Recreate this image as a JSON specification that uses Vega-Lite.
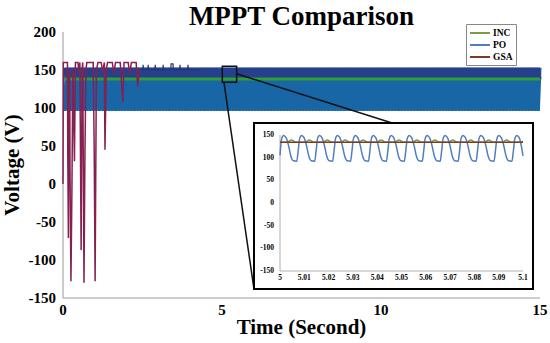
{
"$schema": "https://vega.github.io/schema/vega-lite/v6.json",
"width": 477, "height": 266,
"autosize": "none",
"padding": {"left": 63, "top": 32, "right": 10, "bottom": 45},
"background": "white",
"config": {"view": {"stroke": null}, "axis": {"grid": false}},
"title": {"text": "MPPT Comparison", "font": "Liberation Serif", "fontSize": 27, "fontWeight": "bold", "color": "black", "anchor": "middle", "frame": "group", "offset": -28, "baseline": "alphabetic"},
"datasets": {
"band": [
{"t":0.05,"p":96,"g":153},{"t":0.1,"p":153,"g":138},{"t":0.15,"p":96,"g":153},{"t":0.2,"p":153,"g":138},{"t":0.25,"p":96,"g":153},{"t":0.3,"p":153,"g":138},{"t":0.35,"p":96,"g":153},{"t":0.4,"p":153,"g":138},{"t":0.45,"p":96,"g":153},{"t":0.5,"p":153,"g":138},{"t":0.55,"p":96,"g":153},{"t":0.6,"p":153,"g":138},{"t":0.65,"p":96,"g":153},{"t":0.7,"p":153,"g":138},{"t":0.75,"p":96,"g":153},{"t":0.8,"p":153,"g":138},{"t":0.85,"p":96,"g":153},{"t":0.9,"p":153,"g":138},{"t":0.95,"p":96,"g":153},{"t":1,"p":153,"g":138},
{"t":1.05,"p":96,"g":153},{"t":1.1,"p":153,"g":138},{"t":1.15,"p":96,"g":153},{"t":1.2,"p":153,"g":138},{"t":1.25,"p":96,"g":153},{"t":1.3,"p":153,"g":138},{"t":1.35,"p":96,"g":153},{"t":1.4,"p":153,"g":138},{"t":1.45,"p":96,"g":153},{"t":1.5,"p":153,"g":138},{"t":1.55,"p":96,"g":153},{"t":1.6,"p":153,"g":138},{"t":1.65,"p":96,"g":153},{"t":1.7,"p":153,"g":138},{"t":1.75,"p":96,"g":153},{"t":1.8,"p":153,"g":138},{"t":1.85,"p":96,"g":153},{"t":1.9,"p":153,"g":138},{"t":1.95,"p":96,"g":153},{"t":2,"p":153,"g":138},
{"t":2.05,"p":96,"g":153},{"t":2.1,"p":153,"g":138},{"t":2.15,"p":96,"g":153},{"t":2.2,"p":153,"g":138},{"t":2.25,"p":96,"g":153},{"t":2.3,"p":153,"g":138},{"t":2.35,"p":96,"g":153},{"t":2.4,"p":153,"g":138},{"t":2.45,"p":96,"g":153},{"t":2.5,"p":153,"g":138},{"t":2.55,"p":96,"g":153},{"t":2.6,"p":153,"g":138},{"t":2.65,"p":96,"g":153},{"t":2.7,"p":153,"g":138},{"t":2.75,"p":96,"g":153},{"t":2.8,"p":153,"g":138},{"t":2.85,"p":96,"g":153},{"t":2.9,"p":153,"g":138},{"t":2.95,"p":96,"g":153},{"t":3,"p":153,"g":138},
{"t":3.05,"p":96,"g":153},{"t":3.1,"p":153,"g":138},{"t":3.15,"p":96,"g":153},{"t":3.2,"p":153,"g":138},{"t":3.25,"p":96,"g":153},{"t":3.3,"p":153,"g":138},{"t":3.35,"p":96,"g":153},{"t":3.4,"p":153,"g":138},{"t":3.45,"p":96,"g":153},{"t":3.5,"p":153,"g":138},{"t":3.55,"p":96,"g":153},{"t":3.6,"p":153,"g":138},{"t":3.65,"p":96,"g":153},{"t":3.7,"p":153,"g":138},{"t":3.75,"p":96,"g":153},{"t":3.8,"p":153,"g":138},{"t":3.85,"p":96,"g":153},{"t":3.9,"p":153,"g":138},{"t":3.95,"p":96,"g":153},{"t":4,"p":153,"g":138},
{"t":4.05,"p":96,"g":153},{"t":4.1,"p":153,"g":138},{"t":4.15,"p":96,"g":153},{"t":4.2,"p":153,"g":138},{"t":4.25,"p":96,"g":153},{"t":4.3,"p":153,"g":138},{"t":4.35,"p":96,"g":153},{"t":4.4,"p":153,"g":138},{"t":4.45,"p":96,"g":153},{"t":4.5,"p":153,"g":138},{"t":4.55,"p":96,"g":153},{"t":4.6,"p":153,"g":138},{"t":4.65,"p":96,"g":153},{"t":4.7,"p":153,"g":138},{"t":4.75,"p":96,"g":153},{"t":4.8,"p":153,"g":138},{"t":4.85,"p":96,"g":153},{"t":4.9,"p":153,"g":138},{"t":4.95,"p":96,"g":153},{"t":5,"p":153,"g":138},
{"t":5.05,"p":96,"g":153},{"t":5.1,"p":153,"g":138},{"t":5.15,"p":96,"g":153},{"t":5.2,"p":153,"g":138},{"t":5.25,"p":96,"g":153},{"t":5.3,"p":153,"g":138},{"t":5.35,"p":96,"g":153},{"t":5.4,"p":153,"g":138},{"t":5.45,"p":96,"g":153},{"t":5.5,"p":153,"g":138},{"t":5.55,"p":96,"g":153},{"t":5.6,"p":153,"g":138},{"t":5.65,"p":96,"g":153},{"t":5.7,"p":153,"g":138},{"t":5.75,"p":96,"g":153},{"t":5.8,"p":153,"g":138},{"t":5.85,"p":96,"g":153},{"t":5.9,"p":153,"g":138},{"t":5.95,"p":96,"g":153},{"t":6,"p":153,"g":138},
{"t":6.05,"p":96,"g":153},{"t":6.1,"p":153,"g":138},{"t":6.15,"p":96,"g":153},{"t":6.2,"p":153,"g":138},{"t":6.25,"p":96,"g":153},{"t":6.3,"p":153,"g":138},{"t":6.35,"p":96,"g":153},{"t":6.4,"p":153,"g":138},{"t":6.45,"p":96,"g":153},{"t":6.5,"p":153,"g":138},{"t":6.55,"p":96,"g":153},{"t":6.6,"p":153,"g":138},{"t":6.65,"p":96,"g":153},{"t":6.7,"p":153,"g":138},{"t":6.75,"p":96,"g":153},{"t":6.8,"p":153,"g":138},{"t":6.85,"p":96,"g":153},{"t":6.9,"p":153,"g":138},{"t":6.95,"p":96,"g":153},{"t":7,"p":153,"g":138},
{"t":7.05,"p":96,"g":153},{"t":7.1,"p":153,"g":138},{"t":7.15,"p":96,"g":153},{"t":7.2,"p":153,"g":138},{"t":7.25,"p":96,"g":153},{"t":7.3,"p":153,"g":138},{"t":7.35,"p":96,"g":153},{"t":7.4,"p":153,"g":138},{"t":7.45,"p":96,"g":153},{"t":7.5,"p":153,"g":138},{"t":7.55,"p":96,"g":153},{"t":7.6,"p":153,"g":138},{"t":7.65,"p":96,"g":153},{"t":7.7,"p":153,"g":138},{"t":7.75,"p":96,"g":153},{"t":7.8,"p":153,"g":138},{"t":7.85,"p":96,"g":153},{"t":7.9,"p":153,"g":138},{"t":7.95,"p":96,"g":153},{"t":8,"p":153,"g":138},
{"t":8.05,"p":96,"g":153},{"t":8.1,"p":153,"g":138},{"t":8.15,"p":96,"g":153},{"t":8.2,"p":153,"g":138},{"t":8.25,"p":96,"g":153},{"t":8.3,"p":153,"g":138},{"t":8.35,"p":96,"g":153},{"t":8.4,"p":153,"g":138},{"t":8.45,"p":96,"g":153},{"t":8.5,"p":153,"g":138},{"t":8.55,"p":96,"g":153},{"t":8.6,"p":153,"g":138},{"t":8.65,"p":96,"g":153},{"t":8.7,"p":153,"g":138},{"t":8.75,"p":96,"g":153},{"t":8.8,"p":153,"g":138},{"t":8.85,"p":96,"g":153},{"t":8.9,"p":153,"g":138},{"t":8.95,"p":96,"g":153},{"t":9,"p":153,"g":138},
{"t":9.05,"p":96,"g":153},{"t":9.1,"p":153,"g":138},{"t":9.15,"p":96,"g":153},{"t":9.2,"p":153,"g":138},{"t":9.25,"p":96,"g":153},{"t":9.3,"p":153,"g":138},{"t":9.35,"p":96,"g":153},{"t":9.4,"p":153,"g":138},{"t":9.45,"p":96,"g":153},{"t":9.5,"p":153,"g":138},{"t":9.55,"p":96,"g":153},{"t":9.6,"p":153,"g":138},{"t":9.65,"p":96,"g":153},{"t":9.7,"p":153,"g":138},{"t":9.75,"p":96,"g":153},{"t":9.8,"p":153,"g":138},{"t":9.85,"p":96,"g":153},{"t":9.9,"p":153,"g":138},{"t":9.95,"p":96,"g":153},{"t":10,"p":153,"g":138},
{"t":10.05,"p":96,"g":153},{"t":10.1,"p":153,"g":138},{"t":10.15,"p":96,"g":153},{"t":10.2,"p":153,"g":138},{"t":10.25,"p":96,"g":153},{"t":10.3,"p":153,"g":138},{"t":10.35,"p":96,"g":153},{"t":10.4,"p":153,"g":138},{"t":10.45,"p":96,"g":153},{"t":10.5,"p":153,"g":138},{"t":10.55,"p":96,"g":153},{"t":10.6,"p":153,"g":138},{"t":10.65,"p":96,"g":153},{"t":10.7,"p":153,"g":138},{"t":10.75,"p":96,"g":153},{"t":10.8,"p":153,"g":138},{"t":10.85,"p":96,"g":153},{"t":10.9,"p":153,"g":138},{"t":10.95,"p":96,"g":153},{"t":11,"p":153,"g":138},
{"t":11.05,"p":96,"g":153},{"t":11.1,"p":153,"g":138},{"t":11.15,"p":96,"g":153},{"t":11.2,"p":153,"g":138},{"t":11.25,"p":96,"g":153},{"t":11.3,"p":153,"g":138},{"t":11.35,"p":96,"g":153},{"t":11.4,"p":153,"g":138},{"t":11.45,"p":96,"g":153},{"t":11.5,"p":153,"g":138},{"t":11.55,"p":96,"g":153},{"t":11.6,"p":153,"g":138},{"t":11.65,"p":96,"g":153},{"t":11.7,"p":153,"g":138},{"t":11.75,"p":96,"g":153},{"t":11.8,"p":153,"g":138},{"t":11.85,"p":96,"g":153},{"t":11.9,"p":153,"g":138},{"t":11.95,"p":96,"g":153},{"t":12,"p":153,"g":138},
{"t":12.05,"p":96,"g":153},{"t":12.1,"p":153,"g":138},{"t":12.15,"p":96,"g":153},{"t":12.2,"p":153,"g":138},{"t":12.25,"p":96,"g":153},{"t":12.3,"p":153,"g":138},{"t":12.35,"p":96,"g":153},{"t":12.4,"p":153,"g":138},{"t":12.45,"p":96,"g":153},{"t":12.5,"p":153,"g":138},{"t":12.55,"p":96,"g":153},{"t":12.6,"p":153,"g":138},{"t":12.65,"p":96,"g":153},{"t":12.7,"p":153,"g":138},{"t":12.75,"p":96,"g":153},{"t":12.8,"p":153,"g":138},{"t":12.85,"p":96,"g":153},{"t":12.9,"p":153,"g":138},{"t":12.95,"p":96,"g":153},{"t":13,"p":153,"g":138},
{"t":13.05,"p":96,"g":153},{"t":13.1,"p":153,"g":138},{"t":13.15,"p":96,"g":153},{"t":13.2,"p":153,"g":138},{"t":13.25,"p":96,"g":153},{"t":13.3,"p":153,"g":138},{"t":13.35,"p":96,"g":153},{"t":13.4,"p":153,"g":138},{"t":13.45,"p":96,"g":153},{"t":13.5,"p":153,"g":138},{"t":13.55,"p":96,"g":153},{"t":13.6,"p":153,"g":138},{"t":13.65,"p":96,"g":153},{"t":13.7,"p":153,"g":138},{"t":13.75,"p":96,"g":153},{"t":13.8,"p":153,"g":138},{"t":13.85,"p":96,"g":153},{"t":13.9,"p":153,"g":138},{"t":13.95,"p":96,"g":153},{"t":14,"p":153,"g":138},
{"t":14.05,"p":96,"g":153},{"t":14.1,"p":153,"g":138},{"t":14.15,"p":96,"g":153},{"t":14.2,"p":153,"g":138},{"t":14.25,"p":96,"g":153},{"t":14.3,"p":153,"g":138},{"t":14.35,"p":96,"g":153},{"t":14.4,"p":153,"g":138},{"t":14.45,"p":96,"g":153},{"t":14.5,"p":153,"g":138},{"t":14.55,"p":96,"g":153},{"t":14.6,"p":153,"g":138},{"t":14.65,"p":96,"g":153},{"t":14.7,"p":153,"g":138},{"t":14.75,"p":96,"g":153},{"t":14.8,"p":153,"g":138},{"t":14.85,"p":96,"g":153},{"t":14.9,"p":153,"g":138},{"t":14.95,"p":96,"g":153},{"t":15,"p":153,"g":138}
],
"inc": [{"t":0.05,"v":138},{"t":15,"v":138}],
"gsa0": [{"t":0,"v":0},{"t":0.01,"v":160},{"t":0.14,"v":160},{"t":0.15,"v":40},{"t":0.17,"v":-71},{"t":0.19,"v":145},{"t":0.21,"v":150},{"t":0.22,"v":20},{"t":0.25,"v":-128},{"t":0.28,"v":-10},{"t":0.31,"v":150},{"t":0.36,"v":30},{"t":0.39,"v":160},{"t":0.47,"v":160},{"t":0.5,"v":148},{"t":0.53,"v":160},{"t":0.57,"v":-87},{"t":0.6,"v":150},{"t":0.62,"v":160},{"t":0.66,"v":-130},{"t":0.69,"v":40},{"t":0.72,"v":150},{"t":0.75,"v":160},{"t":0.95,"v":160},{"t":0.98,"v":50},{"t":1.01,"v":-128},{"t":1.05,"v":150},{"t":1.1,"v":160},{"t":1.2,"v":160},{"t":1.25,"v":148},{"t":1.3,"v":160},{"t":1.32,"v":45},{"t":1.36,"v":150},{"t":1.4,"v":160},{"t":1.55,"v":160},{"t":1.6,"v":145},{"t":1.65,"v":160},{"t":1.8,"v":160},{"t":1.88,"v":108},{"t":1.92,"v":160},{"t":2.05,"v":160},{"t":2.1,"v":145},{"t":2.15,"v":160},{"t":2.3,"v":160},{"t":2.35,"v":128},{"t":2.4,"v":152}],
"po0": [{"t":2.45,"v":150},{"t":2.51,"v":150},{"t":2.52,"v":157},{"t":2.53,"v":150},{"t":2.67,"v":150},{"t":2.68,"v":157},{"t":2.69,"v":150},{"t":2.89,"v":150},{"t":2.9,"v":157},{"t":2.91,"v":150},{"t":3.14,"v":150},{"t":3.15,"v":157},{"t":3.16,"v":150},{"t":3.39,"v":150},{"t":3.4,"v":158},{"t":3.46,"v":158},{"t":3.47,"v":150},{"t":3.67,"v":150},{"t":3.68,"v":157},{"t":3.69,"v":150},{"t":3.92,"v":150},{"t":3.93,"v":157},{"t":3.94,"v":150},{"t":4.3,"v":150}],
"maxes": [{"x":0,"y":-150,"x2":15,"y2":-150},{"x":0,"y":-150,"x2":0,"y2":200}],
"mxlab": [{"t":0,"v":-150,"lab":"0"},{"t":5,"v":-150,"lab":"5"},{"t":10,"v":-150,"lab":"10"},{"t":15,"v":-150,"lab":"15"}],
"mylab": [{"t":0,"v":-150,"lab":"-150"},{"t":0,"v":-100,"lab":"-100"},{"t":0,"v":-50,"lab":"-50"},{"t":0,"v":0,"lab":"0"},{"t":0,"v":50,"lab":"50"},{"t":0,"v":100,"lab":"100"},{"t":0,"v":150,"lab":"150"},{"t":0,"v":200,"lab":"200"}],
"xtitle": [{"t":7.5,"v":-150,"lab":"Time (Second)"}],
"ytitle": [{"t":0,"v":25,"lab":"Voltage (V)"}],
"zoombox": [{"x":5.01,"x2":5.46,"y":134,"y2":155}],
"frame": [{"x":6.006,"x2":14.78,"y":-138.2,"y2":80.3}],
"links": [{"x":5.46,"y":145,"x2":10.35,"y2":80.3},{"x":5.06,"y":134,"x2":6.006,"y2":-138.2}],
"iaxes": [{"t":5,"v":-150,"t2":5.1,"v2":-150},{"t":5,"v":-150,"t2":5,"v2":150}],
"ixlab": [{"t":5,"v":-150,"lab":"5"},{"t":5.01,"v":-150,"lab":"5.01"},{"t":5.02,"v":-150,"lab":"5.02"},{"t":5.03,"v":-150,"lab":"5.03"},{"t":5.04,"v":-150,"lab":"5.04"},{"t":5.05,"v":-150,"lab":"5.05"},{"t":5.06,"v":-150,"lab":"5.06"},{"t":5.07,"v":-150,"lab":"5.07"},{"t":5.08,"v":-150,"lab":"5.08"},{"t":5.09,"v":-150,"lab":"5.09"},{"t":5.1,"v":-150,"lab":"5.1"}],
"iylab": [{"t":5,"v":-150,"lab":"-150"},{"t":5,"v":-100,"lab":"-100"},{"t":5,"v":-50,"lab":"-50"},{"t":5,"v":0,"lab":"0"},{"t":5,"v":50,"lab":"50"},{"t":5,"v":100,"lab":"100"},{"t":5,"v":150,"lab":"150"}],
"inset": [
{"s":"PO","t":5.0,"v":105},{"s":"PO","t":5.0007,"v":142},{"s":"PO","t":5.0015,"v":149},{"s":"PO","t":5.0025,"v":144},{"s":"PO","t":5.0035,"v":127},{"s":"PO","t":5.0045,"v":103},{"s":"PO","t":5.0055,"v":93},
{"s":"PO","t":5.00688,"v":92},{"s":"PO","t":5.00748,"v":115},{"s":"PO","t":5.00808,"v":142},{"s":"PO","t":5.00888,"v":149},{"s":"PO","t":5.00988,"v":144},{"s":"PO","t":5.01088,"v":127},{"s":"PO","t":5.01188,"v":103},{"s":"PO","t":5.01288,"v":93},
{"s":"PO","t":5.01426,"v":92},{"s":"PO","t":5.01486,"v":115},{"s":"PO","t":5.01546,"v":142},{"s":"PO","t":5.01626,"v":149},{"s":"PO","t":5.01726,"v":144},{"s":"PO","t":5.01826,"v":127},{"s":"PO","t":5.01926,"v":103},{"s":"PO","t":5.02026,"v":93},
{"s":"PO","t":5.02164,"v":92},{"s":"PO","t":5.02224,"v":115},{"s":"PO","t":5.02284,"v":142},{"s":"PO","t":5.02364,"v":149},{"s":"PO","t":5.02464,"v":144},{"s":"PO","t":5.02564,"v":127},{"s":"PO","t":5.02664,"v":103},{"s":"PO","t":5.02764,"v":93},
{"s":"PO","t":5.02902,"v":92},{"s":"PO","t":5.02962,"v":115},{"s":"PO","t":5.03022,"v":142},{"s":"PO","t":5.03102,"v":149},{"s":"PO","t":5.03202,"v":144},{"s":"PO","t":5.03302,"v":127},{"s":"PO","t":5.03402,"v":103},{"s":"PO","t":5.03502,"v":93},
{"s":"PO","t":5.0364,"v":92},{"s":"PO","t":5.037,"v":115},{"s":"PO","t":5.0376,"v":142},{"s":"PO","t":5.0384,"v":149},{"s":"PO","t":5.0394,"v":144},{"s":"PO","t":5.0404,"v":127},{"s":"PO","t":5.0414,"v":103},{"s":"PO","t":5.0424,"v":93},
{"s":"PO","t":5.04378,"v":92},{"s":"PO","t":5.04438,"v":115},{"s":"PO","t":5.04498,"v":142},{"s":"PO","t":5.04578,"v":149},{"s":"PO","t":5.04678,"v":144},{"s":"PO","t":5.04778,"v":127},{"s":"PO","t":5.04878,"v":103},{"s":"PO","t":5.04978,"v":93},
{"s":"PO","t":5.05116,"v":92},{"s":"PO","t":5.05176,"v":115},{"s":"PO","t":5.05236,"v":142},{"s":"PO","t":5.05316,"v":149},{"s":"PO","t":5.05416,"v":144},{"s":"PO","t":5.05516,"v":127},{"s":"PO","t":5.05616,"v":103},{"s":"PO","t":5.05716,"v":93},
{"s":"PO","t":5.05854,"v":92},{"s":"PO","t":5.05914,"v":115},{"s":"PO","t":5.05974,"v":142},{"s":"PO","t":5.06054,"v":149},{"s":"PO","t":5.06154,"v":144},{"s":"PO","t":5.06254,"v":127},{"s":"PO","t":5.06354,"v":103},{"s":"PO","t":5.06454,"v":93},
{"s":"PO","t":5.06592,"v":92},{"s":"PO","t":5.06652,"v":115},{"s":"PO","t":5.06712,"v":142},{"s":"PO","t":5.06792,"v":149},{"s":"PO","t":5.06892,"v":144},{"s":"PO","t":5.06992,"v":127},{"s":"PO","t":5.07092,"v":103},{"s":"PO","t":5.07192,"v":93},
{"s":"PO","t":5.0733,"v":92},{"s":"PO","t":5.0739,"v":115},{"s":"PO","t":5.0745,"v":142},{"s":"PO","t":5.0753,"v":149},{"s":"PO","t":5.0763,"v":144},{"s":"PO","t":5.0773,"v":127},{"s":"PO","t":5.0783,"v":103},{"s":"PO","t":5.0793,"v":93},
{"s":"PO","t":5.08068,"v":92},{"s":"PO","t":5.08128,"v":115},{"s":"PO","t":5.08188,"v":142},{"s":"PO","t":5.08268,"v":149},{"s":"PO","t":5.08368,"v":144},{"s":"PO","t":5.08468,"v":127},{"s":"PO","t":5.08568,"v":103},{"s":"PO","t":5.08668,"v":93},
{"s":"PO","t":5.08806,"v":92},{"s":"PO","t":5.08866,"v":115},{"s":"PO","t":5.08926,"v":142},{"s":"PO","t":5.09006,"v":149},{"s":"PO","t":5.09106,"v":144},{"s":"PO","t":5.09206,"v":127},{"s":"PO","t":5.09306,"v":103},{"s":"PO","t":5.09406,"v":93},
{"s":"PO","t":5.09544,"v":92},{"s":"PO","t":5.09604,"v":115},{"s":"PO","t":5.09664,"v":142},{"s":"PO","t":5.09744,"v":149},{"s":"PO","t":5.09844,"v":144},{"s":"PO","t":5.09944,"v":122},{"s":"PO","t":5.1,"v":104},
{"s":"INC","t":5.0,"v":134},{"s":"INC","t":5.0029,"v":134},{"s":"INC","t":5.0047,"v":139},{"s":"INC","t":5.0065,"v":134},
{"s":"INC","t":5.01028,"v":134},{"s":"INC","t":5.01208,"v":139},{"s":"INC","t":5.01388,"v":134},
{"s":"INC","t":5.01766,"v":134},{"s":"INC","t":5.01946,"v":139},{"s":"INC","t":5.02126,"v":134},
{"s":"INC","t":5.02504,"v":134},{"s":"INC","t":5.02684,"v":139},{"s":"INC","t":5.02864,"v":134},
{"s":"INC","t":5.03242,"v":134},{"s":"INC","t":5.03422,"v":139},{"s":"INC","t":5.03602,"v":134},
{"s":"INC","t":5.0398,"v":134},{"s":"INC","t":5.0416,"v":139},{"s":"INC","t":5.0434,"v":134},
{"s":"INC","t":5.04718,"v":134},{"s":"INC","t":5.04898,"v":139},{"s":"INC","t":5.05078,"v":134},
{"s":"INC","t":5.05456,"v":134},{"s":"INC","t":5.05636,"v":139},{"s":"INC","t":5.05816,"v":134},
{"s":"INC","t":5.06194,"v":134},{"s":"INC","t":5.06374,"v":139},{"s":"INC","t":5.06554,"v":134},
{"s":"INC","t":5.06932,"v":134},{"s":"INC","t":5.07112,"v":139},{"s":"INC","t":5.07292,"v":134},
{"s":"INC","t":5.0767,"v":134},{"s":"INC","t":5.0785,"v":139},{"s":"INC","t":5.0803,"v":134},
{"s":"INC","t":5.08408,"v":134},{"s":"INC","t":5.08588,"v":139},{"s":"INC","t":5.08768,"v":134},
{"s":"INC","t":5.09146,"v":134},{"s":"INC","t":5.09326,"v":139},{"s":"INC","t":5.09506,"v":134},
{"s":"INC","t":5.09884,"v":134},{"s":"INC","t":5.1,"v":136},
{"s":"GSA","t":5.0,"v":134},{"s":"GSA","t":5.1,"v":134}
]
},
"layer": [
{"layer": [
 {"data": {"name": "maxes"}, "mark": {"type": "rule", "color": "#9a9a9a", "strokeWidth": 1},
  "encoding": {"x": {"field": "x", "type": "quantitative", "scale": {"domain": [0, 15], "nice": false, "zero": false}, "axis": null}, "x2": {"field": "x2"},
   "y": {"field": "y", "type": "quantitative", "scale": {"domain": [-150, 200], "nice": false, "zero": false}, "axis": null}, "y2": {"field": "y2"}}},
 {"data": {"name": "band"}, "mark": {"type": "line", "color": "#1866a6", "strokeWidth": 3, "strokeJoin": "bevel"},
  "encoding": {"x": {"field": "t", "type": "quantitative", "axis": null}, "y": {"field": "p", "type": "quantitative", "axis": null}}},
 {"data": {"name": "band"}, "mark": {"type": "line", "color": "#25418d", "strokeWidth": 3, "strokeJoin": "bevel"},
  "encoding": {"x": {"field": "t", "type": "quantitative", "axis": null}, "y": {"field": "g", "type": "quantitative", "axis": null}}},
 {"data": {"name": "inc"}, "mark": {"type": "line", "color": "#2f9e35", "strokeWidth": 3},
  "encoding": {"x": {"field": "t", "type": "quantitative", "axis": null}, "y": {"field": "v", "type": "quantitative", "axis": null}}},
 {"data": {"name": "gsa0"}, "mark": {"type": "line", "color": "#862050", "strokeWidth": 1.5},
  "encoding": {"x": {"field": "t", "type": "quantitative", "axis": null}, "y": {"field": "v", "type": "quantitative", "axis": null}}},
 {"data": {"name": "po0"}, "mark": {"type": "line", "color": "#283270", "strokeWidth": 1.2},
  "encoding": {"x": {"field": "t", "type": "quantitative", "axis": null}, "y": {"field": "v", "type": "quantitative", "axis": null}}},
 {"data": {"name": "zoombox"}, "mark": {"type": "rect", "fillOpacity": 0, "stroke": "#111111", "strokeWidth": 1.5},
  "encoding": {"x": {"field": "x", "type": "quantitative", "axis": null}, "x2": {"field": "x2"}, "y": {"field": "y", "type": "quantitative", "axis": null}, "y2": {"field": "y2"}}},
 {"data": {"name": "links"}, "mark": {"type": "rule", "color": "#111111", "strokeWidth": 1.5},
  "encoding": {"x": {"field": "x", "type": "quantitative", "axis": null}, "x2": {"field": "x2"}, "y": {"field": "y", "type": "quantitative", "axis": null}, "y2": {"field": "y2"}}},
 {"data": {"name": "frame"}, "mark": {"type": "rect", "fill": "white", "stroke": "black", "strokeWidth": 2},
  "encoding": {"x": {"field": "x", "type": "quantitative", "axis": null}, "x2": {"field": "x2"}, "y": {"field": "y", "type": "quantitative", "axis": null}, "y2": {"field": "y2"}}},
 {"data": {"name": "mxlab"}, "mark": {"type": "text", "font": "Liberation Serif", "fontWeight": "bold", "fontSize": 15, "baseline": "top", "dy": 5, "color": "black"},
  "encoding": {"x": {"field": "t", "type": "quantitative", "axis": null}, "y": {"field": "v", "type": "quantitative", "axis": null}, "text": {"field": "lab"}}},
 {"data": {"name": "mylab"}, "mark": {"type": "text", "font": "Liberation Serif", "fontWeight": "bold", "fontSize": 15, "align": "right", "baseline": "middle", "dx": -7, "color": "black"},
  "encoding": {"x": {"field": "t", "type": "quantitative", "axis": null}, "y": {"field": "v", "type": "quantitative", "axis": null}, "text": {"field": "lab"}}},
 {"data": {"name": "xtitle"}, "mark": {"type": "text", "font": "Liberation Serif", "fontWeight": "bold", "fontSize": 21, "align": "center", "baseline": "middle", "dy": 30, "color": "black"},
  "encoding": {"x": {"field": "t", "type": "quantitative", "axis": null}, "y": {"field": "v", "type": "quantitative", "axis": null}, "text": {"field": "lab"}}},
 {"data": {"name": "ytitle"}, "mark": {"type": "text", "font": "Liberation Serif", "fontWeight": "bold", "fontSize": 21, "align": "center", "baseline": "middle", "angle": 270, "dy": -50, "color": "black"},
  "encoding": {"x": {"field": "t", "type": "quantitative", "axis": null}, "y": {"field": "v", "type": "quantitative", "axis": null}, "text": {"field": "lab"}}}
]},
{"layer": [
 {"data": {"name": "iaxes"}, "mark": {"type": "rule", "color": "#b0b0b0", "strokeWidth": 1},
  "encoding": {
   "x": {"field": "t", "type": "quantitative", "scale": {"domain": [5, 5.1], "range": [217, 460], "nice": false, "zero": false}, "axis": null},
   "x2": {"field": "t2"},
   "y": {"field": "v", "type": "quantitative", "scale": {"domain": [-150, 150], "range": [239, 103], "nice": false, "zero": false}, "axis": null},
   "y2": {"field": "v2"}}},
 {"data": {"name": "ixlab"}, "mark": {"type": "text", "font": "Liberation Serif", "fontWeight": "bold", "fontSize": 7.5, "baseline": "top", "dy": 3, "color": "black"},
  "encoding": {"x": {"field": "t", "type": "quantitative", "axis": null}, "y": {"field": "v", "type": "quantitative", "axis": null}, "text": {"field": "lab"}}},
 {"data": {"name": "iylab"}, "mark": {"type": "text", "font": "Liberation Serif", "fontWeight": "bold", "fontSize": 7.5, "align": "right", "baseline": "middle", "dx": -6, "color": "black"},
  "encoding": {"x": {"field": "t", "type": "quantitative", "axis": null}, "y": {"field": "v", "type": "quantitative", "axis": null}, "text": {"field": "lab"}}},
 {"data": {"name": "inset"}, "mark": {"type": "line", "strokeWidth": 1.5, "interpolate": "monotone"},
  "encoding": {
   "x": {"field": "t", "type": "quantitative", "axis": null},
   "y": {"field": "v", "type": "quantitative", "axis": null},
   "color": {"field": "s", "type": "nominal", "scale": {"domain": ["INC", "PO", "GSA"], "range": ["#7f9a45", "#4f7fc0", "#7e3a22"]},
        "legend": {"orient": "none", "legendX": 403, "legendY": -8, "title": null, "symbolType": "M -1 0 L 3 0", "symbolSize": 100, "symbolStrokeWidth": 2, "labelFont": "Liberation Serif", "labelFontWeight": "bold", "labelFontSize": 9.5, "labelColor": "black", "fillColor": "white", "strokeColor": "#888888", "padding": 3, "rowPadding": 1, "labelOffset": 12}}
  }}
]}
],
"resolve": {"scale": {"x": "independent", "y": "independent"}}
}
